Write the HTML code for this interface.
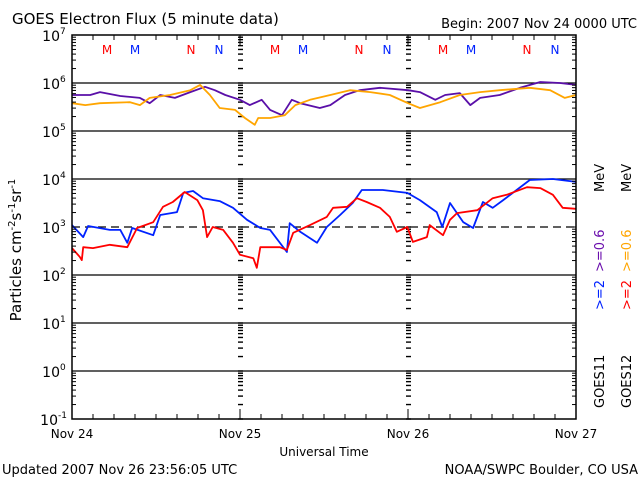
<!DOCTYPE html>
<html><head><meta charset="utf-8"><style>
html,body{margin:0;padding:0;background:#fff;width:640px;height:480px;overflow:hidden}
svg{display:block;font-family:"DejaVu Sans","Liberation Sans",sans-serif}
</style></head><body>
<svg id="chart" width="640" height="480" viewBox="0 0 640 480">
<text x="12" y="24" font-size="15" fill="#000">GOES Electron Flux (5 minute data)</text>
<text x="637" y="28" font-size="13" text-anchor="end" fill="#000">Begin: 2007 Nov 24 0000 UTC</text>
<g id="grid"></g>
<g id="series"></g>
<g id="axes"></g>
<text transform="translate(21,250) rotate(-90)" font-size="15" text-anchor="middle">Particles cm<tspan dy="-6" font-size="10">-2</tspan><tspan dy="6">s</tspan><tspan dy="-6" font-size="10">-1</tspan><tspan dy="6">sr</tspan><tspan dy="-6" font-size="10">-1</tspan></text>
<text x="324" y="456" font-size="12" text-anchor="middle">Universal Time</text>
<text x="2" y="474" font-size="13">Updated 2007 Nov 26 23:56:05 UTC</text>
<text x="638" y="474" font-size="13" text-anchor="end">NOAA/SWPC Boulder, CO USA</text>
<g font-size="13">
<text transform="translate(604,408) rotate(-90)">GOES11</text>
<text transform="translate(631,408) rotate(-90)">GOES12</text>
<text transform="translate(604,310) rotate(-90)" fill="#0022ff">&gt;=2</text>
<text transform="translate(604,272) rotate(-90)" fill="#6a0dad">&gt;=0.6</text>
<text transform="translate(631,310) rotate(-90)" fill="#ff0000">&gt;=2</text>
<text transform="translate(631,272) rotate(-90)" fill="#ffa500">&gt;=0.6</text>
<text transform="translate(604,192) rotate(-90)">MeV</text>
<text transform="translate(631,192) rotate(-90)">MeV</text>
</g>
</svg>
<script>
// hours since Nov 24 00:00 UTC, log10 flux
const purpleHours=[0,2.6,4,6.9,9.7,11.1,12.6,14.7,16.9,19,20.4,21.9,24,25.4,27.1,28.3,30,31.4,32.6,35.4,36.9,39,41.1,44,48,49.7,51.9,53.3,55.4,56.9,58.3,61.1,64,66.9,69.7,72];
const purpleLog=[5.75,5.75,5.81,5.73,5.69,5.58,5.75,5.69,5.81,5.92,5.85,5.75,5.65,5.54,5.65,5.44,5.33,5.65,5.58,5.48,5.54,5.75,5.85,5.9,5.85,5.81,5.65,5.75,5.79,5.54,5.69,5.75,5.9,6.02,6.0,5.96];
const orangeHours=[0,1.9,4,8.3,9.7,11.1,14,16.9,18.3,19.7,21.1,23.3,24.7,26.1,26.6,28.3,30.4,31.9,34,36.9,39.7,42.6,45.4,48,49.7,52.6,55.4,58.3,61.1,65.4,68.3,70.4,72];
const orangeLog=[5.58,5.54,5.58,5.6,5.54,5.69,5.75,5.85,5.96,5.75,5.48,5.44,5.27,5.13,5.27,5.27,5.33,5.54,5.65,5.75,5.85,5.81,5.75,5.58,5.48,5.6,5.75,5.81,5.85,5.9,5.85,5.69,5.75];
const blueHours=[0,1.6,2.3,5.4,6.9,7.9,8.6,11.6,12.6,15,15.9,17.3,18.7,21.1,23,25,26.9,28.3,30.7,31.1,32.6,35,36.4,38.3,40.1,41.4,44.4,47.9,49.7,52.1,52.9,54,55.9,57.3,58.7,60.1,61.6,65.4,68.7,72];
const blueLog=[3.04,2.79,3.02,2.94,2.94,2.67,2.98,2.83,3.25,3.31,3.71,3.75,3.6,3.54,3.4,3.15,2.98,2.94,2.48,3.08,2.9,2.67,3.0,3.25,3.5,3.77,3.77,3.71,3.56,3.31,3.0,3.5,3.1,2.98,3.52,3.4,3.56,3.98,4.0,3.94];
const redHours=[0,1.1,1.4,1.6,3,5.4,7.9,9.3,11.6,13,14.4,16.1,17.9,18.7,19.3,20.1,21.6,23,24,25.9,26.4,26.9,29.7,30.7,31.6,34,36.4,37.3,39.3,40.7,42.1,44,45.4,46.4,47.9,48.7,50.7,51.1,53,54,55,57.9,60.1,62.1,65,66.9,68.7,70.1,72];
const redLog=[2.56,2.38,2.31,2.58,2.56,2.63,2.58,2.98,3.1,3.42,3.52,3.73,3.56,3.35,2.79,3.0,2.94,2.67,2.42,2.35,2.15,2.58,2.58,2.52,2.88,3.04,3.21,3.4,3.42,3.6,3.52,3.4,3.21,2.9,3.0,2.69,2.79,3.04,2.83,3.15,3.29,3.35,3.6,3.67,3.83,3.81,3.67,3.4,3.38];
const decades=[7,6,5,4,3,2,1,0,-1];
const dayLabels=["Nov 24","Nov 25","Nov 26","Nov 27"];
const markerLabels=["M","M","N","N"];
const markerHours=[5,9,17,21];
const markerColors=["#ff0000","#0022ff","#ff0000","#0022ff"];

const X0=72,X1=576,Y0=35,Y1=419;
const xs=h=>X0+(h/72)*(X1-X0);
const ys=l=>Y0+(7-l)*(Y1-Y0)/8;
const NS="http://www.w3.org/2000/svg";
function mk(tag,attrs,parent){const e=document.createElementNS(NS,tag);for(const k in attrs)e.setAttribute(k,attrs[k]);parent.appendChild(e);return e;}
const grid=document.getElementById('grid'),axes=document.getElementById('axes'),series=document.getElementById('series');

decades.forEach(d=>{
  if(d===7||d===-1)return;
  const l=mk('line',{x1:X0,x2:X1,y1:ys(d),y2:ys(d),stroke:'#000','stroke-width':1.2},grid);
  if(d===3)l.setAttribute('stroke-dasharray','8,5');
  
  
});
[1,2].forEach(day=>{
  const x=xs(day*24);
  for(let d=7;d>-1;d--){
    for(let m=1;m<10;m++){
      const y=ys(d-1+Math.log10(m));
      const t=mk('line',{x1:x-2,x2:x+3,y1:y,y2:y,stroke:'#000','stroke-width':1.4},grid);
      
      
    }
  }
});
for(let d=7;d>-1;d--){
  for(let m=1;m<10;m++){
    const y=ys(d-1+Math.log10(m));
    const len=m===1?8:4;
    const a=mk('line',{x1:X0,x2:X0+len,y1:y,y2:y,stroke:'#000','stroke-width':1},axes);
    
    
    const b=mk('line',{x1:X1-len,x2:X1,y1:y,y2:y,stroke:'#000','stroke-width':1},axes);
    
    
  }
}
const frame=mk('rect',{x:X0,y:Y0,width:X1-X0,height:Y1-Y0,fill:'none',stroke:'#000','stroke-width':1.5},axes);


for(let h=0;h<=72;h+=3){
  const len=h%24===0?10:5;
  const t=mk('line',{x1:xs(h),x2:xs(h),y1:Y1,y2:Y1-len,stroke:'#000','stroke-width':1},axes);
  
  
  const t2=mk('line',{x1:xs(h),x2:xs(h),y1:Y0,y2:Y0+len,stroke:'#000','stroke-width':1},axes);
  
  
}
dayLabels.forEach((s,i)=>{
  const t=mk('text',{x:xs(i*24),y:438,'font-size':12,'text-anchor':'middle'},axes);
  t.textContent=s;
  
  
});
decades.forEach(d=>{
  const t=mk('text',{x:d<0?58:60,y:ys(d)+6,'font-size':14,'text-anchor':'end'},axes);
  t.textContent='10';
  
  
  const s=mk('text',{x:d<0?58:60,y:ys(d)-1,'font-size':9},axes);
  s.textContent=d<0?'-'+(-d):String(d);
  
  
});
for(let day=0;day<3;day++){
  markerLabels.forEach((m,i)=>{
    const t=mk('text',{x:xs(day*24+markerHours[i]),y:54,'font-size':12,'text-anchor':'middle',fill:markerColors[i]},axes);
    t.textContent=m;
    
    
  });
}
function linePath(hs,ls){
  let p='M'+xs(hs[0]).toFixed(1)+','+ys(ls[0]).toFixed(1);
  for(let i=1;i<hs.length;i++){p+='L'+xs(hs[i]).toFixed(1)+','+ys(ls[i]).toFixed(1);}
  return p;
}
[[purpleHours,purpleLog,'#5a0fa8','series-goes11-06mev'],[orangeHours,orangeLog,'#ffa500','series-goes12-06mev'],[blueHours,blueLog,'#0022ff','series-goes11-2mev'],[redHours,redLog,'#ff0000','series-goes12-2mev']].forEach(s=>{
  const p=mk('path',{d:linePath(s[0],s[1]),fill:'none',stroke:s[2],'stroke-width':1.8,'stroke-linejoin':'round'},series);
  
  
});
</script>
</body></html>
